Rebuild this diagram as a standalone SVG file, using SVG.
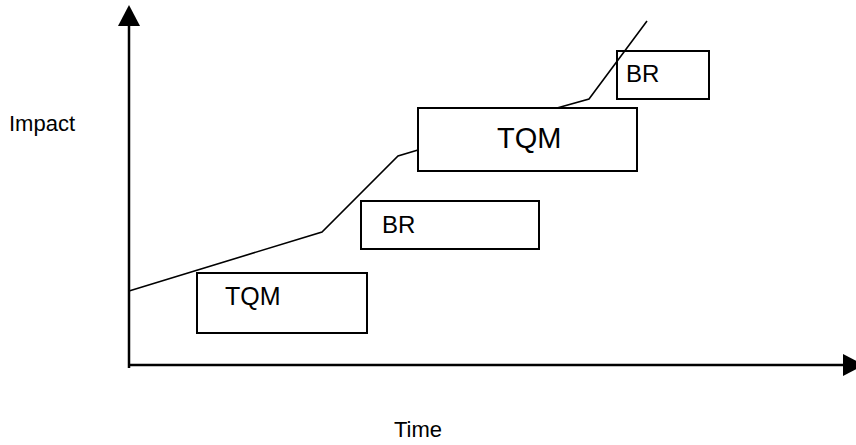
<svg xmlns="http://www.w3.org/2000/svg" width="856" height="445" viewBox="0 0 856 445">
<style>
.box{fill:#fff;stroke:#000;stroke-width:2}
.ax{stroke:#000;stroke-width:2.5;fill:none}
.ln{stroke:#000;stroke-width:1.6;fill:none}
text{font-family:"Liberation Sans",Arial,sans-serif;fill:#000}
</style>
<rect width="856" height="445" fill="#fff"/>
<g id="axes">
<line class="ax" x1="129" y1="22" x2="129" y2="368"/>
<polygon points="129,5 118,26 140,26" fill="#000"/>
<line class="ax" x1="129" y1="365" x2="846" y2="365"/>
<polygon points="864,365 843,354 843,376" fill="#000"/>
</g>
<g id="label-impact"><text x="9" y="131" font-size="22">Impact</text></g>
<g id="label-time"><text x="394" y="437" font-size="22">Time</text></g>
<g id="tqm1"><rect class="box" x="197" y="273" width="170" height="60"/><text x="225" y="305" font-size="25">TQM</text></g>
<g id="br1"><rect class="box" x="361" y="201" width="178" height="48"/><text x="382" y="233" font-size="24">BR</text></g>
<g id="tqm2"><rect class="box" x="418" y="108" width="219" height="63"/><text x="497" y="148" font-size="29">TQM</text></g>
<g id="br2"><rect class="box" x="617" y="51" width="92" height="48"/><text x="626" y="82" font-size="24">BR</text></g>
<g id="connectors">
<polyline class="ln" points="129,291 322,232 398,156 418,150"/>
<polyline class="ln" points="557,108 589,99 647,21"/>
</g>
</svg>
